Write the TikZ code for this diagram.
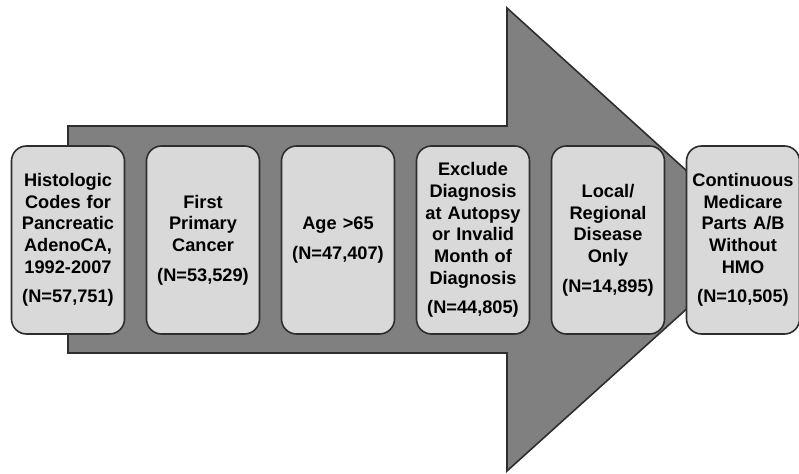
\documentclass[tikz,border=0pt]{standalone}
\usepackage{fontspec}
\setmainfont{Liberation Sans}
\usetikzlibrary{positioning}
\definecolor{arrowgray}{gray}{0.5}
\definecolor{boxgray}{gray}{0.85}
\definecolor{edgegray}{gray}{0.18}

\begin{document}
\begin{tikzpicture}[x=1pt,y=1pt,node distance=135pt,
        stage/.style={rectangle,rounded corners=15pt,draw=edgegray,fill=boxgray,
                      line width=1.6pt,minimum width=113pt,minimum height=188pt,
                      text width=111pt,inner sep=1pt,align=center,
                      font=\bfseries\fontsize{18.2}{21.7}\selectfont}]

        \useasboundingbox (0,0) rectangle (799,-473);

        % big arrow behind the boxes
        \draw[fill=arrowgray,draw=edgegray,line width=1.6pt,line join=miter]
              (68,-126) -- (507,-126) -- (507,-8) -- (763,-240)
              -- (507,-471) -- (507,-353) -- (68,-353) -- cycle;

        \node[stage]  (S01) at (68,-240)  {Histologic\\Codes for\\Pancreatic\\AdenoCA,\\1992-2007\\[8pt](N=57,751)};
        \node[stage]  (S02) [right of=S01] {First\\Primary\\Cancer\\[8pt](N=53,529)};
        \node[stage]  (S03) [right of=S02] {Age >65\\[8pt](N=47,407)};
        \node[stage]  (S04) [right of=S03] {Exclude\\Diagnosis\\at Autopsy\\or Invalid\\Month of\\Diagnosis\\[8pt](N=44,805)};
        \node[stage]  (S05) [right of=S04] {Local/\\Regional\\Disease\\Only\\[8pt](N=14,895)};
        \node[stage]  (S06) [right of=S05] {Continuous\\Medicare\\Parts A/B\\Without\\HMO\\[8pt](N=10,505)};
      \end{tikzpicture}
\end{document}
